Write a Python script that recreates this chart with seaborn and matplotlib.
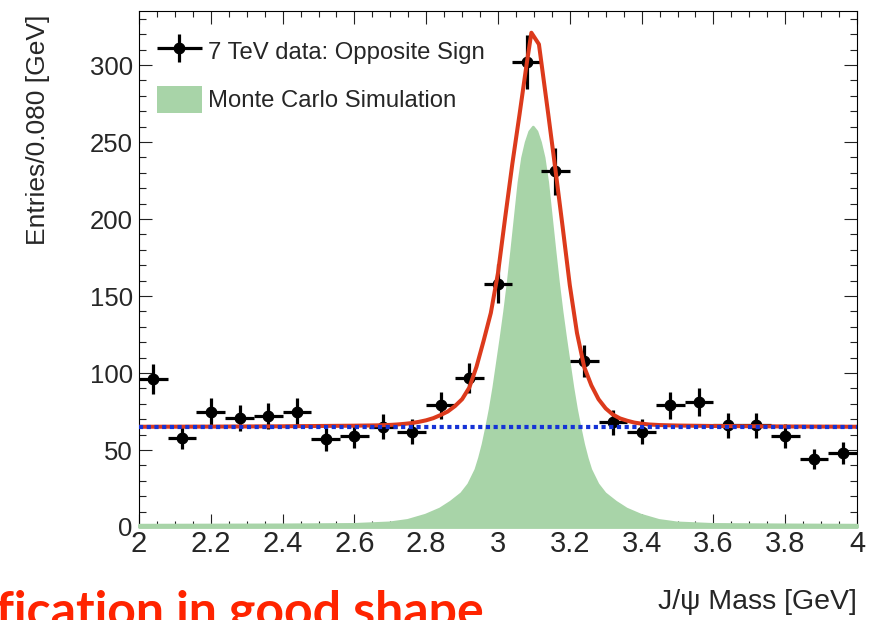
import matplotlib
matplotlib.use("Agg")
import matplotlib.pyplot as plt
import matplotlib.patches as mpatches
from matplotlib.ticker import MultipleLocator, FuncFormatter
from matplotlib.legend_handler import HandlerErrorbar
from matplotlib.container import ErrorbarContainer
import seaborn as sns

# Opposite-sign dimuon candidates in 0.080 GeV bins
mass_bins = [2.04, 2.12, 2.20, 2.28, 2.36, 2.44, 2.52, 2.60, 2.68, 2.76, 2.84, 2.92, 3.00,
             3.08, 3.16, 3.24, 3.32, 3.40, 3.48, 3.56, 3.64, 3.72, 3.80, 3.88, 3.96]
entries = [96, 58, 75, 71, 72, 75, 57, 59, 65, 62, 79, 97, 158,
           302, 231, 108, 68, 62, 79, 81, 66, 66, 59, 44, 48]
entry_errors = [9.8, 7.6, 8.7, 8.4, 8.5, 8.7, 7.5, 7.7, 8.1, 7.9, 8.9, 9.8, 12.6,
                17.4, 15.2, 10.4, 8.2, 7.9, 8.9, 9.0, 8.1, 8.1, 7.7, 6.6, 6.9]
bin_half_width = 0.04

# Signal + background fit
fit_mass = [2.00, 2.20, 2.40, 2.50, 2.60, 2.66, 2.70, 2.72, 2.74, 2.76,
            2.78, 2.80, 2.82, 2.84, 2.86, 2.88, 2.90, 2.92, 2.94, 2.96,
            2.98, 3.00, 3.02, 3.04, 3.06, 3.08, 3.093, 3.114, 3.14, 3.16,
            3.18, 3.20, 3.22, 3.24, 3.26, 3.28, 3.30, 3.32, 3.34, 3.36,
            3.38, 3.40, 3.42, 3.45, 3.50, 3.60, 3.80, 4.00]
fit_entries = [65.1, 65.2, 65.4, 65.6, 65.8, 66.0, 66.3, 66.6, 67.0, 67.5,
               68.3, 69.3, 70.7, 72.7, 75.0, 78.5, 83.0, 90.5, 104, 121,
               139, 165, 201, 236, 268, 301, 321, 313.5, 268, 232,
               195, 157, 126, 104, 92, 83, 77, 73, 70.5, 69,
               67.8, 67.1, 66.6, 66.2, 65.9, 65.6, 65.3, 65.1]

# Flat background component of the fit
bkg_mass = [2.0, 4.0]
bkg_entries = [65.0, 65.0]

# Monte Carlo signal shape
mc_mass = [2.00, 2.397, 2.597, 2.697, 2.747, 2.797, 2.837, 2.867, 2.897, 2.917,
           2.937, 2.947, 2.957, 2.967, 2.977, 2.987, 2.997, 3.007, 3.017, 3.027,
           3.037, 3.047, 3.057, 3.067, 3.077, 3.087, 3.097,
           3.107, 3.117, 3.127, 3.137, 3.147, 3.157, 3.167, 3.177, 3.187, 3.197,
           3.207, 3.217, 3.227, 3.237, 3.247, 3.257, 3.277, 3.297, 3.327, 3.357,
           3.397, 3.447, 3.497, 3.597, 3.797, 4.00]
mc_entries = [1.5, 1.7, 2.0, 3.0, 4.6, 8.0, 12.0, 16.5, 22, 28,
              37.5, 45, 54, 65, 77, 91, 107, 123, 140, 159,
              180, 202, 224, 240, 250, 257, 260,
              257, 250, 240, 224, 202, 180, 159, 140, 123, 107,
              91, 77, 65, 54, 45, 37.5, 28, 22, 16.5, 12,
              8, 4.6, 3.0, 2.0, 1.7, 1.5]

legend_labels = ["7 TeV data: Opposite Sign", "Monte Carlo Simulation"]

GREEN = "#a8d4a8"
RED = "#dc3a1c"
BLUE = "#1533d6"

sns.set_theme(style="ticks")
plt.rcParams["font.family"] = ["Liberation Sans", "DejaVu Sans"]
plt.rcParams["axes.linewidth"] = 0.8
plt.rcParams["axes.edgecolor"] = "black"

fig = plt.figure(figsize=(8.77, 6.2), dpi=100, facecolor="white")
ax = fig.add_axes([0.1585, 0.15, 0.8187, 0.832])
ax.set_facecolor("white")

ax.fill_between(mc_mass, mc_entries, 0, facecolor=GREEN, edgecolor=GREEN,
                linewidth=2.0, zorder=2.6, clip_on=False)

eb = ax.errorbar(mass_bins, entries, xerr=bin_half_width, yerr=entry_errors,
                 fmt="o", color="black", ms=7.5, elinewidth=2.3, capsize=0,
                 zorder=3)

sns.lineplot(x=fit_mass, y=fit_entries, color=RED, linewidth=2.9, ax=ax,
             estimator=None, sort=False, legend=False, zorder=4)
sns.lineplot(x=bkg_mass, y=bkg_entries, color=BLUE, linewidth=3.0, ax=ax,
             estimator=None, sort=False, legend=False, zorder=5,
             linestyle=(0, (1.0, 0.85)), solid_capstyle="butt",
             dash_capstyle="butt")

ax.set_xlim(2, 4)
ax.set_ylim(0, 335)
ax.xaxis.set_major_locator(MultipleLocator(0.2))
ax.xaxis.set_minor_locator(MultipleLocator(0.05))
ax.yaxis.set_major_locator(MultipleLocator(50))
ax.yaxis.set_minor_locator(MultipleLocator(10))
ax.xaxis.set_major_formatter(FuncFormatter(lambda v, p: f"{v:g}"))
ax.yaxis.set_major_formatter(FuncFormatter(lambda v, p: f"{v:g}"))

ax.tick_params(which="both", direction="in", top=True, right=True,
               color="#222222", width=0.8)
ax.tick_params(axis="x", which="major", length=9.4, labelsize=21, pad=2.5)
ax.tick_params(axis="x", which="minor", length=4.5)
ax.tick_params(axis="y", which="major", length=9.4, labelsize=18.5, pad=4.5)
ax.tick_params(axis="y", which="minor", length=5.0)
for s in ax.spines.values():
    s.set_visible(True)
    s.set_color("black")
    s.set_linewidth(0.8)

ax.set_ylabel("Entries/0.080 [GeV]", fontsize=19, loc="top")
ax.yaxis.set_label_coords(-0.124, 0.994)
ax.set_xlabel("J/\u03c8 Mass [GeV]", fontsize=20.5, loc="right")
ax.xaxis.set_label_coords(1.0, -0.121)

mc_patch = mpatches.Patch(facecolor=GREEN, edgecolor="none")
ax.legend([eb, mc_patch], legend_labels, loc="upper left",
          bbox_to_anchor=(0.025, 0.9497), frameon=False, fontsize=17.2,
          handlelength=1.87, handleheight=1.39, handletextpad=0.25,
          labelspacing=0.89, borderpad=0, borderaxespad=0,
          handler_map={ErrorbarContainer: HandlerErrorbar(xerr_size=0.94,
                                                          yerr_size=0.58)})

fig.text(-0.004, -0.011, "fication in good shape", color="#ff2400",
         fontsize=36, fontweight="bold", family=["Lato", "DejaVu Sans"],
         ha="left", va="baseline")

fig.savefig("out.png", dpi=100, facecolor="white")
